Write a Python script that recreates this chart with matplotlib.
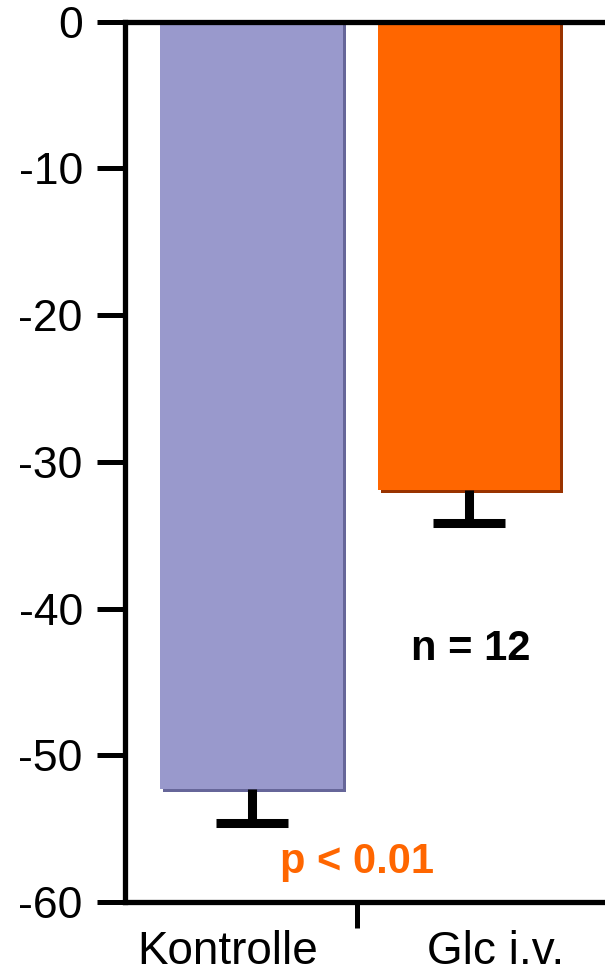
import matplotlib
matplotlib.use("Agg")
import matplotlib.pyplot as plt

# data
groups = ["Kontrolle", "Glc i.v."]
values = [-52.3, -31.9]
errors = [2.3, 2.3]
bar_colors = ["#9999CC", "#FF6600"]
shadow_colors = ["#666699", "#993300"]
yticks = [0, -10, -20, -30, -40, -50, -60]

plt.rcParams['font.family'] = ['Liberation Sans', 'DejaVu Sans']

fig = plt.figure(figsize=(6.05, 9.74), dpi=100)
ax = fig.add_axes([0.2058, 0.0739, 0.7942, 0.9040])

x = [0, 1]
width = 0.84

# drop shadow behind bars
ax.bar([i + 0.014 for i in x], [v - 0.2 for v in values], width=width,
       color=shadow_colors, zorder=1)
ax.bar(x, values, width=width, color=bar_colors, zorder=2)

# one-sided error bars (downwards only, cap at the bottom)
lows = [v - e for v, e in zip(values, errors)]
ax.vlines(x, lows, values, color="black", linewidth=6.5, zorder=3)
ax.plot(x, lows, linestyle="none", marker="_", markersize=52,
        markeredgewidth=6.5, color="black", zorder=3)

ax.set_ylim(-60, 0)
ax.set_xlim(-0.584, 1.625)
ax.set_yticks(yticks)
ax.set_yticklabels([str(t) for t in yticks], fontsize=32)
ax.tick_params(axis="y", length=20, width=3.6, pad=10, direction="out")

ax.set_xticks([-0.11, 1.12])
ax.set_xticklabels(groups, fontsize=33)
ax.tick_params(axis="x", which="major", length=0, pad=20)
ax.set_xticks([0.485], minor=True)
ax.tick_params(axis="x", which="minor", length=19, width=3.6, direction="out")

for side in ["left", "bottom", "top"]:
    ax.spines[side].set_linewidth(3.8)
ax.spines["right"].set_visible(False)

ax.text(1.009, -43.5, "n = 12", fontsize=30, fontweight="bold",
        ha="center", va="baseline", color="black")
ax.text(0.487, -58.0, "p < 0.01", fontsize=30, fontweight="bold",
        ha="center", va="baseline", color="#FF6600")

fig.savefig("out.png", dpi=100)
